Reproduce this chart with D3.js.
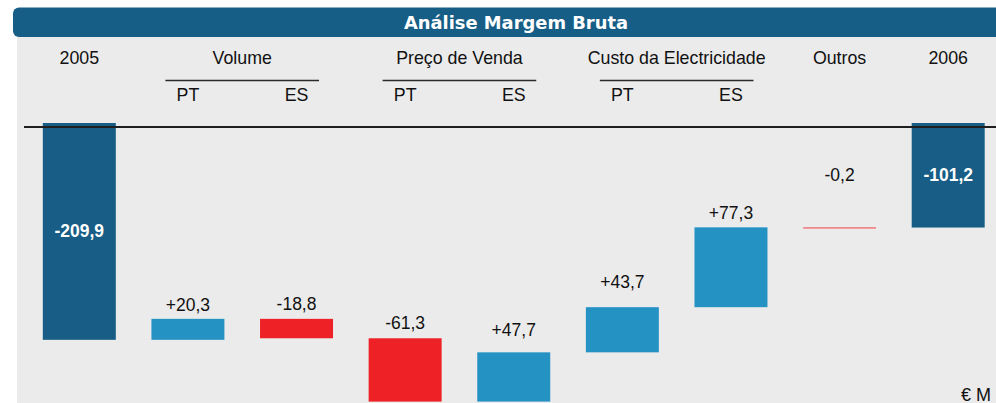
<!DOCTYPE html>
<html><head><meta charset="utf-8">
<script src="https://cdn.jsdelivr.net/npm/d3@7"></script>
<style>html,body{margin:0;padding:0;background:#fff;}svg{display:block;}</style>
</head><body>
<svg id="chart" width="996" height="403"></svg>
<script>
// ---- data ----
const title = "Análise Margem Bruta";
const steps = ["2005", "Volume PT", "Volume ES", "Preço PT", "Preço ES", "Custo PT", "Custo ES", "Outros", "2006"];
const values = [-209.9, 20.3, -18.8, -61.3, 47.7, 43.7, 77.3, -0.2, -101.2];
const kinds = ["total", "delta", "delta", "delta", "delta", "delta", "delta", "delta", "total"];
const subLabels = ["", "PT", "ES", "PT", "ES", "PT", "ES", "", ""];
const groupLabels = ["2005", "Volume", "Preço de Venda", "Custo da Electricidade", "Outros", "2006"];
const groupFirst = [0, 1, 3, 5, 7, 8];
const groupLast = [0, 2, 4, 6, 7, 8];
const unitLabel = "€ M";

// ---- layout (not data) ----
const labelGap = [0, 8, 9, 9, 16, 19, 8, 46, 0];
const W = 996, H = 403;
const colors = {total: "#175d85", up: "#2592c4", down: "#ee2226", title: "#175e86", bg: "#ebebeb"};
const font = "'Liberation Sans', Arial, Helvetica, sans-serif";

const svg = d3.select("#chart");

// backgrounds
svg.append("rect").attr("x", 17).attr("y", 36).attr("width", W - 17).attr("height", H - 36).attr("fill", colors.bg);
svg.append("rect").attr("x", 13).attr("y", 7.5).attr("width", W + 20).attr("height", 29.5).attr("rx", 6).attr("fill", colors.title);
svg.append("text").attr("x", 404).attr("y", 28.5)
  .attr("font-family", "'DejaVu Sans', sans-serif").attr("font-weight", 700).attr("font-size", 18.5)
  .attr("textLength", 224).attr("lengthAdjust", "spacingAndGlyphs")
  .attr("fill", "#fff").text(title);

// scales
const x = d3.scaleBand().domain(steps).range([25, 1002.5]).paddingInner(0.328).paddingOuter(0.164);
const y = d3.scaleLinear().domain([0, -280]).range([123, 123 + 280 * 1.033]);

// waterfall computation
let running = 0;
const bars = steps.map((s, i) => {
  let start, end;
  if (kinds[i] === "total") { start = 0; end = values[i]; running = values[i]; }
  else { start = running; end = running + values[i]; running = end; }
  return {step: s, i, v: values[i], kind: kinds[i], start, end};
});

const fmt = d3.formatLocale({decimal: ",", thousands: ".", grouping: [3], currency: ["", "€"], minus: "-"});
const fTotal = fmt.format(".1f"), fDelta = fmt.format("+.1f");

const g = svg.append("g");
g.selectAll("rect.bar").data(bars).join("rect").attr("class", "bar")
  .attr("x", d => x(d.step))
  .attr("width", x.bandwidth())
  .attr("y", d => Math.min(y(d.start), y(d.end)))
  .attr("height", d => Math.max(1.2, Math.abs(y(d.start) - y(d.end))))
  .attr("fill", d => d.kind === "total" ? colors.total : (d.v >= 0 ? colors.up : (Math.abs(d.v) < 1 ? "#f05a60" : colors.down)));

// zero/base line
svg.append("line").attr("x1", 24).attr("x2", W).attr("y1", 127).attr("y2", 127)
  .attr("stroke", "#1e1e1e").attr("stroke-width", 2);

// value labels
g.selectAll("text.val").data(bars).join("text").attr("class", "val")
  .attr("x", d => x(d.step) + x.bandwidth() / 2)
  .attr("y", d => d.kind === "total" ? (y(d.start) + y(d.end)) / 2 + 6 : Math.min(y(d.start), y(d.end)) - labelGap[d.i])
  .attr("text-anchor", "middle")
  .attr("font-family", font)
  .attr("font-size", d => d.kind === "total" ? 17.5 : 17.5)
  .attr("font-weight", d => d.kind === "total" ? 700 : 400)
  .attr("fill", d => d.kind === "total" ? "#fff" : "#111")
  .text(d => d.kind === "total" ? fTotal(d.v) : (d.v < 0 ? fTotal(d.v) : fDelta(d.v)));

// header: group labels
const cx = i => x(steps[i]) + x.bandwidth() / 2;
groupLabels.forEach((lab, k) => {
  const a = groupFirst[k], b = groupLast[k];
  svg.append("text").attr("x", (cx(a) + cx(b)) / 2).attr("y", 64)
    .attr("text-anchor", "middle").attr("font-family", font).attr("font-size", 17.8)
    .attr("fill", "#111").text(lab);
  if (b > a) {
    svg.append("line").attr("x1", cx(a) - 22.5).attr("x2", cx(b) + 22.5)
      .attr("y1", 80.5).attr("y2", 80.5).attr("stroke", "#2a2a2a").attr("stroke-width", 1.6);
  }
});
// sub labels
svg.selectAll("text.sub").data(steps.map((s, i) => ({s, i})).filter(d => subLabels[d.i])).join("text")
  .attr("class", "sub")
  .attr("x", d => cx(d.i)).attr("y", 101).attr("text-anchor", "middle")
  .attr("font-family", font).attr("font-size", 17.8).attr("fill", "#111")
  .text(d => subLabels[d.i]);

// unit label
svg.append("text").attr("x", 961).attr("y", 400.5).attr("font-family", font).attr("font-size", 18)
  .attr("fill", "#111").text(unitLabel);
</script>
</body></html>
